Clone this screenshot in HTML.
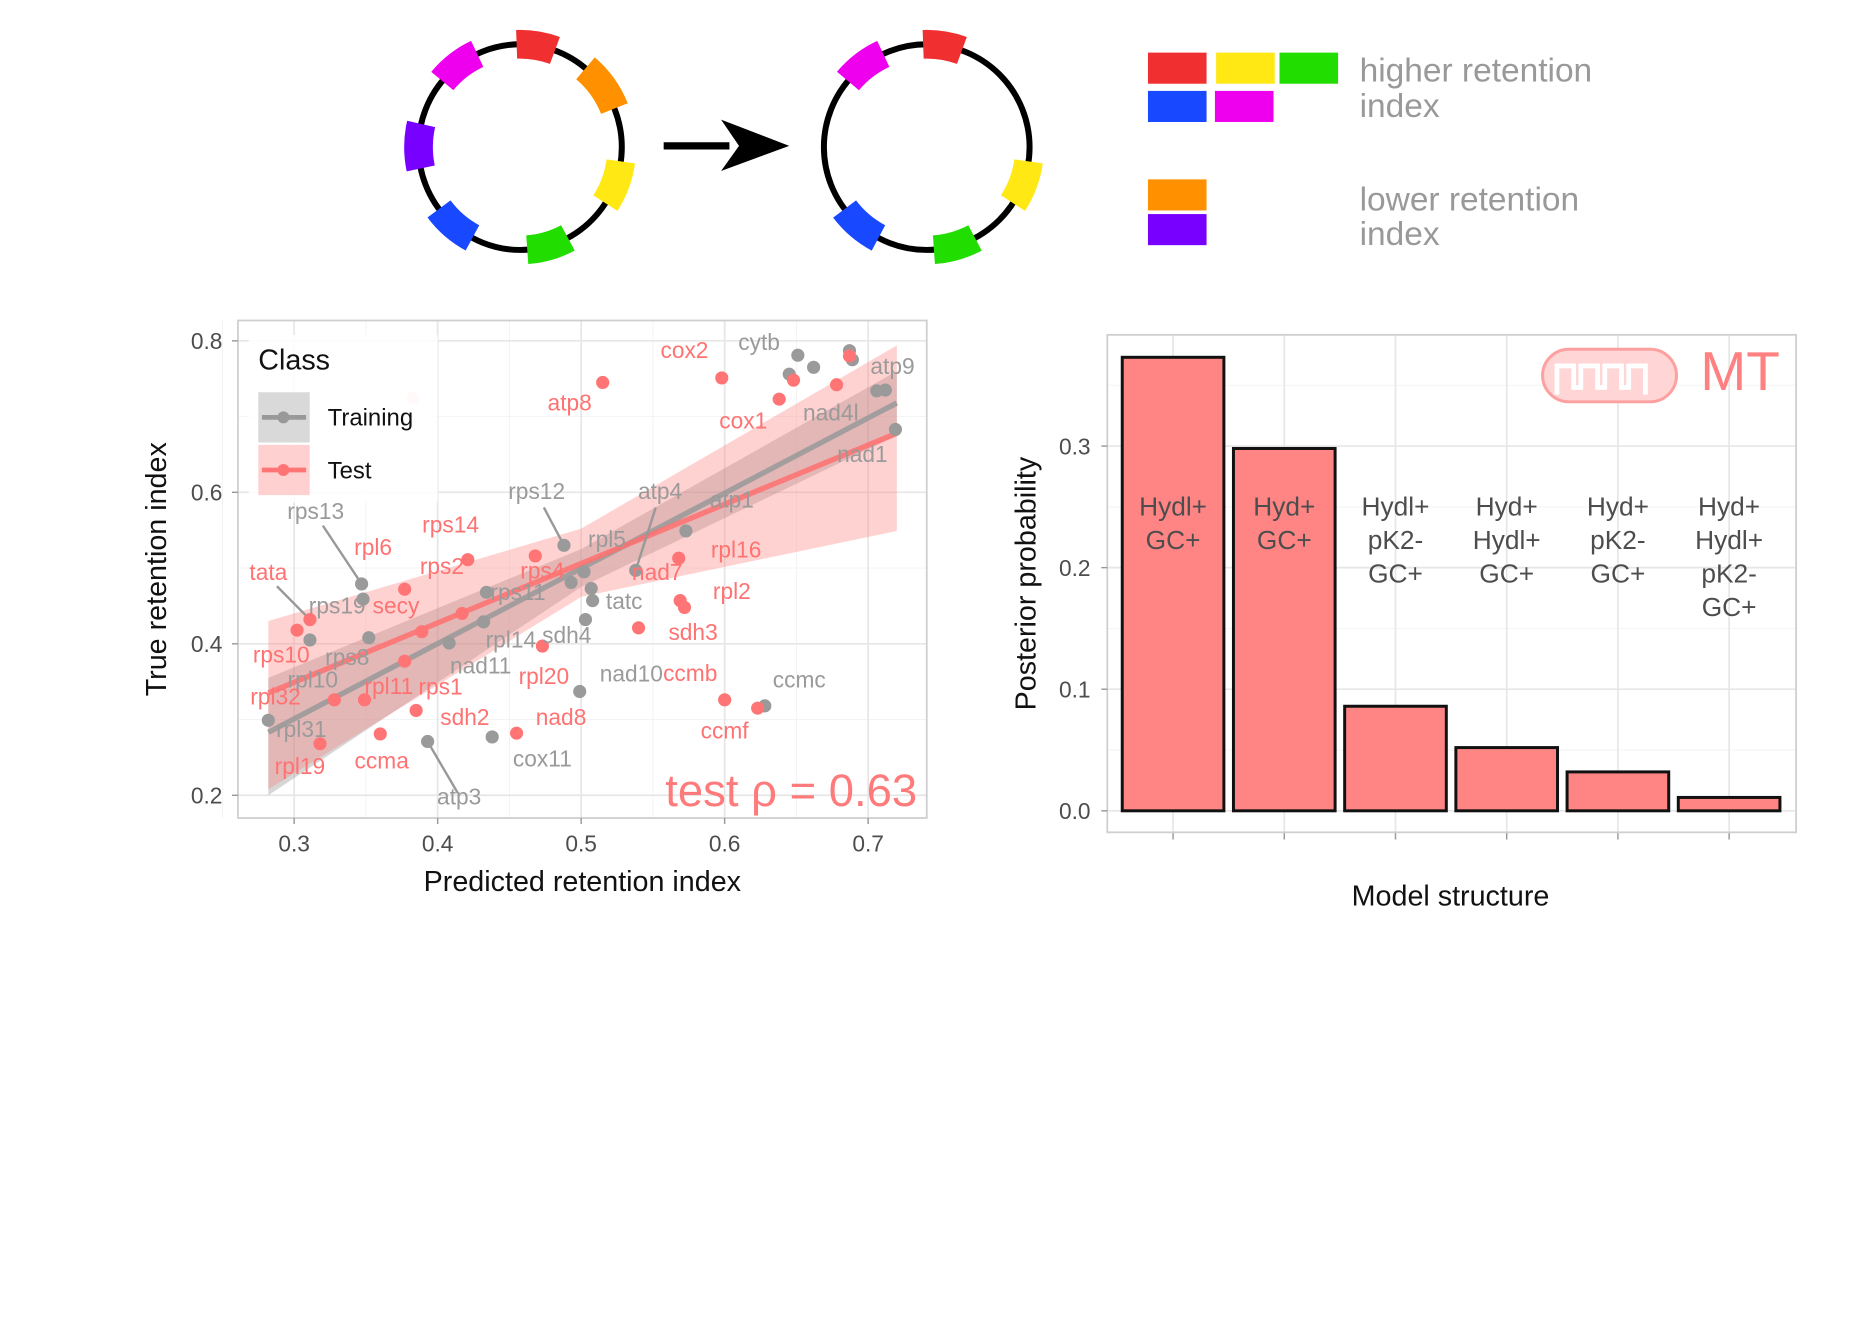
<!DOCTYPE html>
<html><head><meta charset="utf-8"><style>
html,body{margin:0;padding:0;background:#fff;}
svg{display:block;font-family:"Liberation Sans",Arial,sans-serif;}
</style></head><body>
<svg id="fig" width="1875" height="1337" viewBox="0 0 1568 1118" preserveAspectRatio="none" xmlns="http://www.w3.org/2000/svg">
<rect width="1568" height="1118" fill="#fff"/>
<g id="diagram"></g>
<g id="scatter"></g>
<g id="bars"></g>
</svg>
<script>
// ===== scatter data =====
const trainX=[0.651,0.662,0.645,0.687,0.689,0.706,0.712,0.719,0.573,0.538,0.488,0.502,0.493,0.507,0.508,0.503,0.434,0.432,0.408,0.352,0.348,0.347,0.311,0.282,0.393,0.438,0.499,0.628];
const trainY=[0.781,0.765,0.756,0.787,0.775,0.734,0.735,0.683,0.549,0.497,0.530,0.495,0.481,0.473,0.457,0.432,0.468,0.429,0.401,0.408,0.459,0.479,0.405,0.299,0.271,0.277,0.337,0.318];
const testX=[0.383,0.515,0.598,0.638,0.648,0.678,0.687,0.568,0.569,0.572,0.540,0.468,0.421,0.377,0.417,0.389,0.302,0.311,0.473,0.377,0.328,0.349,0.385,0.360,0.455,0.318,0.600,0.623];
const testY=[0.724,0.745,0.751,0.723,0.748,0.742,0.780,0.513,0.457,0.448,0.421,0.516,0.511,0.472,0.440,0.416,0.418,0.432,0.397,0.377,0.326,0.326,0.312,0.281,0.282,0.268,0.326,0.315];
const fitXs=[0.282,0.5,0.72];
const trainFit=[0.283,0.4995,0.718];
const trainLo=[0.200,0.475,0.675];
const trainHi=[0.355,0.525,0.760];
const testFit=[0.335,0.506,0.678];
const testLo=[0.208,0.462,0.549];
const testHi=[0.430,0.552,0.794];
const grayLabels=["cytb","atp9","nad4l","nad1","rps12","atp4","atp1","rpl5","rps13","rps19","rps11","tatc","rpl14","sdh4","nad11","nad10","ccmc","rpl10","rps8","rpl31","cox11","atp3"];
const grayLX=[0.624,0.717,0.674,0.696,0.469,0.555,0.605,0.518,0.315,0.330,0.456,0.530,0.451,0.490,0.430,0.535,0.652,0.313,0.337,0.305,0.473,0.415];
const grayLY=[0.788,0.756,0.695,0.640,0.591,0.591,0.580,0.528,0.565,0.440,0.458,0.446,0.395,0.401,0.361,0.350,0.342,0.342,0.372,0.277,0.238,0.188];
const redLabels=["cox2","atp8","cox1","rps14","rpl6","rps2","tata","secy","rpl16","nad7","rpl2","sdh3","rps10","rpl20","ccmb","rpl11","rps1","rpl32","sdh2","nad8","ccmf","ccma","rpl19","rps4"];
const redLX=[0.572,0.492,0.613,0.409,0.355,0.403,0.282,0.371,0.608,0.553,0.605,0.578,0.291,0.474,0.576,0.366,0.402,0.287,0.419,0.486,0.600,0.361,0.304,0.473];
const redLY=[0.777,0.708,0.684,0.547,0.517,0.492,0.484,0.440,0.514,0.484,0.459,0.405,0.375,0.347,0.351,0.334,0.333,0.320,0.293,0.293,0.275,0.235,0.228,0.486];
const leaderFrom=[[0.320,0.556],[0.288,0.476],[0.474,0.580],[0.552,0.580],[0.414,0.203]];
const leaderTo=[[0.347,0.479],[0.311,0.432],[0.488,0.530],[0.538,0.497],[0.393,0.271]];
const xTicks=[0.3,0.4,0.5,0.6,0.7];
const yTicks=[0.2,0.4,0.6,0.8];
// ===== bar data =====
const barCats=[["Hydl+","GC+"],["Hyd+","GC+"],["Hydl+","pK2-","GC+"],["Hyd+","Hydl+","GC+"],["Hyd+","pK2-","GC+"],["Hyd+","Hydl+","pK2-","GC+"]];
const barVals=[0.373,0.298,0.086,0.052,0.032,0.011];
const barTicks=[0.0,0.1,0.2,0.3];

const NS="http://www.w3.org/2000/svg";
function mk(parent,tag,attrs,text){const e=document.createElementNS(NS,tag);for(const k in attrs)e.setAttribute(k,attrs[k]);if(text!==undefined)e.textContent=text;parent.appendChild(e);return e;}

// ===== scatter =====
const sc=document.getElementById('scatter');
const sx=v=>246+(v-0.3)*1200;
const sy=v=>285+(0.8-v)*633.33;
const P={l:199,r:775,t:268,b:684};
let bg=mk(sc,'rect',{x:P.l,y:P.t,width:P.r-P.l,height:P.b-P.t,fill:'#fff'});


[0.25,0.35,0.45,0.55,0.65].forEach(v=>mk(sc,'line',{x1:sx(v),x2:sx(v),y1:P.t,y2:P.b,stroke:'#f3f3f3','stroke-width':0.8}));
[0.3,0.5,0.7].forEach(v=>mk(sc,'line',{x1:P.l,x2:P.r,y1:sy(v),y2:sy(v),stroke:'#f3f3f3','stroke-width':0.8}));
xTicks.forEach(v=>mk(sc,'line',{x1:sx(v),x2:sx(v),y1:P.t,y2:P.b,stroke:'#e6e6e6','stroke-width':1.4}));
yTicks.forEach(v=>mk(sc,'line',{x1:P.l,x2:P.r,y1:sy(v),y2:sy(v),stroke:'#e6e6e6','stroke-width':1.4}));
function band(lo,hi,fill,op,name){
  let pts=fitXs.map((x,i)=>sx(x)+','+sy(hi[i]));
  pts=pts.concat(fitXs.map((x,i)=>sx(x)+','+sy(lo[i])).reverse());
  const b=mk(sc,'polygon',{points:pts.join(' '),fill:fill,'fill-opacity':op});
  
  
}
band(trainLo,trainHi,'#999',0.4,'training-confidence-band');
band(testLo,testHi,'#ff7f7f',0.35,'test-confidence-band');
function fline(f,col,name){
  const l=mk(sc,'polyline',{points:fitXs.map((x,i)=>sx(x)+','+sy(f[i])).join(' '),fill:'none',stroke:col,'stroke-width':4.5,'stroke-opacity':0.85});
  
  
}
fline(trainFit,'#999','training-fit-line');
fline(testFit,'#ff7070','test-fit-line');
leaderFrom.forEach((a,i)=>{const ln=mk(sc,'line',{x1:sx(a[0]),y1:sy(a[1]),x2:sx(leaderTo[i][0]),y2:sy(leaderTo[i][1]),stroke:'#999','stroke-width':2});
  
  });
trainX.forEach((x,i)=>{const c=mk(sc,'circle',{cx:sx(x),cy:sy(trainY[i]),r:5.5,fill:'#9a9a9a'});
  
  });
testX.forEach((x,i)=>{const c=mk(sc,'circle',{cx:sx(x),cy:sy(testY[i]),r:5.5,fill:'#ff7575','fill-opacity':i==0?0.3:1});
  
  });
grayLabels.forEach((t,i)=>{const e=mk(sc,'text',{x:sx(grayLX[i]),y:sy(grayLY[i]),fill:'#9a9a9a','font-size':19,'text-anchor':'middle'},t);
  
  });
redLabels.forEach((t,i)=>{const e=mk(sc,'text',{x:sx(redLX[i]),y:sy(redLY[i]),fill:'#ff7272','font-size':19,'text-anchor':'middle'},t);
  
  });
let bd=mk(sc,'rect',{x:P.l,y:P.t,width:P.r-P.l,height:P.b-P.t,fill:'none',stroke:'#cfcfcf','stroke-width':1.5});


let lg=mk(sc,'g',{});


mk(lg,'rect',{x:208,y:280,width:158,height:140,fill:'#fff','fill-opacity':0.85});
mk(lg,'text',{x:216,y:309,'font-size':24,fill:'#111'},'Class');
mk(lg,'rect',{x:216,y:328,width:43,height:42,fill:'#d9d9d9'});
mk(lg,'line',{x1:219,x2:256,y1:349,y2:349,stroke:'#999','stroke-width':4});
mk(lg,'circle',{cx:237,cy:349,r:5,fill:'#999'});
mk(lg,'rect',{x:216,y:372,width:43,height:42,fill:'#ffd0d0'});
mk(lg,'line',{x1:219,x2:256,y1:393,y2:393,stroke:'#ff7575','stroke-width':4});
mk(lg,'circle',{cx:237,cy:393,r:5,fill:'#ff7575'});
let t1=mk(lg,'text',{x:274,y:356,'font-size':20,fill:'#111'},'Training');


let t2=mk(lg,'text',{x:274,y:400,'font-size':20,fill:'#111'},'Test');


let rho=mk(sc,'text',{x:767,y:674,'font-size':38,fill:'#ff7a7a','text-anchor':'end'},'test ρ = 0.63');


xTicks.forEach(v=>{mk(sc,'line',{x1:sx(v),x2:sx(v),y1:P.b,y2:P.b+5,stroke:'#999','stroke-width':1.2});
  const e=mk(sc,'text',{x:sx(v),y:712,'font-size':19,fill:'#4d4d4d','text-anchor':'middle'},v.toFixed(1));
  
  });
yTicks.forEach(v=>{mk(sc,'line',{x1:P.l-5,x2:P.l,y1:sy(v),y2:sy(v),stroke:'#999','stroke-width':1.2});
  const e=mk(sc,'text',{x:186,y:sy(v)+7,'font-size':19,fill:'#4d4d4d','text-anchor':'end'},v.toFixed(1));
  
  });
let xt=mk(sc,'text',{x:487,y:745,'font-size':24,fill:'#111','text-anchor':'middle'},'Predicted retention index');


let yt=mk(sc,'text',{x:0,y:0,'font-size':24,fill:'#111','text-anchor':'middle',transform:'translate(139,476) rotate(-90)'},'True retention index');



// ===== bars =====
const bc=document.getElementById('bars');
const B={l:926,r:1502,t:280,b:696};
const by=v=>678-v*1016.7;
const bxc=i=>981+i*93;
let bpan=mk(bc,'rect',{x:B.l,y:B.t,width:B.r-B.l,height:B.b-B.t,fill:'#fff'});


[0.05,0.15,0.25,0.35].forEach(v=>mk(bc,'line',{x1:B.l,x2:B.r,y1:by(v),y2:by(v),stroke:'#f3f3f3','stroke-width':0.8}));
barTicks.forEach(v=>mk(bc,'line',{x1:B.l,x2:B.r,y1:by(v),y2:by(v),stroke:'#e6e6e6','stroke-width':1.4}));
barCats.forEach((c,i)=>mk(bc,'line',{x1:bxc(i),x2:bxc(i),y1:B.t,y2:B.b,stroke:'#e6e6e6','stroke-width':1.4}));
let logo=mk(bc,'g',{});


mk(logo,'rect',{x:1290,y:292,width:112,height:44,rx:22,fill:'#ffd5d5',stroke:'#ffa0a0','stroke-width':2.5});
mk(logo,'path',{d:'M1302 330 V306 H1316 V324 H1322 V306 H1336 V324 H1342 V306 H1356 V324 H1362 V306 H1376 V330',fill:'none',stroke:'#fff','stroke-width':4});
mk(logo,'text',{x:1422,y:326,'font-size':46,fill:'#ff8080'},'MT');
barVals.forEach((v,i)=>{const r=mk(bc,'rect',{x:bxc(i)-42.5,y:by(v),width:85,height:by(0)-by(v),fill:'#ff8585',stroke:'#111','stroke-width':2.5});
  
  });
barCats.forEach((c,i)=>{c.forEach((t,j)=>{const e=mk(bc,'text',{x:bxc(i),y:431+j*28,'font-size':22,fill:'#4d4d4d','text-anchor':'middle'},t);
  
  });
  mk(bc,'line',{x1:bxc(i),x2:bxc(i),y1:B.b,y2:B.b+6,stroke:'#999','stroke-width':1.2});});
let bb=mk(bc,'rect',{x:B.l,y:B.t,width:B.r-B.l,height:B.b-B.t,fill:'none',stroke:'#cfcfcf','stroke-width':1.5});


barTicks.forEach(v=>{mk(bc,'line',{x1:B.l-5,x2:B.l,y1:by(v),y2:by(v),stroke:'#999','stroke-width':1.2});
  const e=mk(bc,'text',{x:912,y:by(v)+7,'font-size':19,fill:'#4d4d4d','text-anchor':'end'},v.toFixed(1));
  
  });
let bxt=mk(bc,'text',{x:1213,y:757,'font-size':24,fill:'#111','text-anchor':'middle'},'Model structure');


let byt=mk(bc,'text',{x:0,y:0,'font-size':24,fill:'#111','text-anchor':'middle',transform:'translate(866,488) rotate(-90)'},'Posterior probability');



// ===== diagram =====
const dg=document.getElementById('diagram');
function arc(cx,cy,rx,ry,a0,a1,col,w){
  const p=a=>[cx+rx*Math.cos(a*Math.PI/180),cy+ry*Math.sin(a*Math.PI/180)];
  const s=p(a0),e=p(a1);
  const g=mk(dg,'path',{d:`M${s[0]} ${s[1]} A${rx} ${ry} 0 0 1 ${e[0]} ${e[1]}`,fill:'none',stroke:col,'stroke-width':w});
  
  
}
let c1=mk(dg,'ellipse',{cx:435,cy:123,rx:85,ry:86,fill:'none',stroke:'#000','stroke-width':5});


arc(435,123,85,86,-92,-70,'#f03030',24);
arc(435,123,85,86,-140,-115,'#ee00ee',24);
arc(435,123,85,86,-50,-22,'#ff9000',24);
arc(435,123,85,86,168,193,'#7700ff',24);
arc(435,123,85,86,8,33,'#ffe814',24);
arc(435,123,85,86,118,143,'#1848ff',24);
arc(435,123,85,86,62,86,'#22dd00',24);
let arw=mk(dg,'path',{d:'M555 122 H610',stroke:'#000','stroke-width':6});


mk(dg,'path',{d:'M603 100 L660 122 L603 143 L618 122 Z',fill:'#000'});
let c2=mk(dg,'ellipse',{cx:775,cy:123,rx:86,ry:86,fill:'none',stroke:'#000','stroke-width':5});


arc(775,123,86,86,-92,-70,'#f03030',24);
arc(775,123,86,86,-140,-115,'#ee00ee',24);
arc(775,123,86,86,8,33,'#ffe814',24);
arc(775,123,86,86,118,143,'#1848ff',24);
arc(775,123,86,86,62,86,'#22dd00',24);
const sq=[[960,44,'#f03030'],[1017,44,'#ffe814'],[1070,44,'#22dd00'],[960,76,'#1848ff'],[1016,76,'#ee00ee'],[960,150,'#ff9000'],[960,179,'#7700ff']];
sq.forEach(s=>{const r=mk(dg,'rect',{x:s[0],y:s[1],width:49,height:26,fill:s[2]});
  
  });
[['higher retention',68],['index',98],['lower retention',176],['index',205]].forEach(t=>{const e=mk(dg,'text',{x:1137,y:t[1],'font-size':28,fill:'#999'},t[0]);
  
  });
</script>
</body></html>
